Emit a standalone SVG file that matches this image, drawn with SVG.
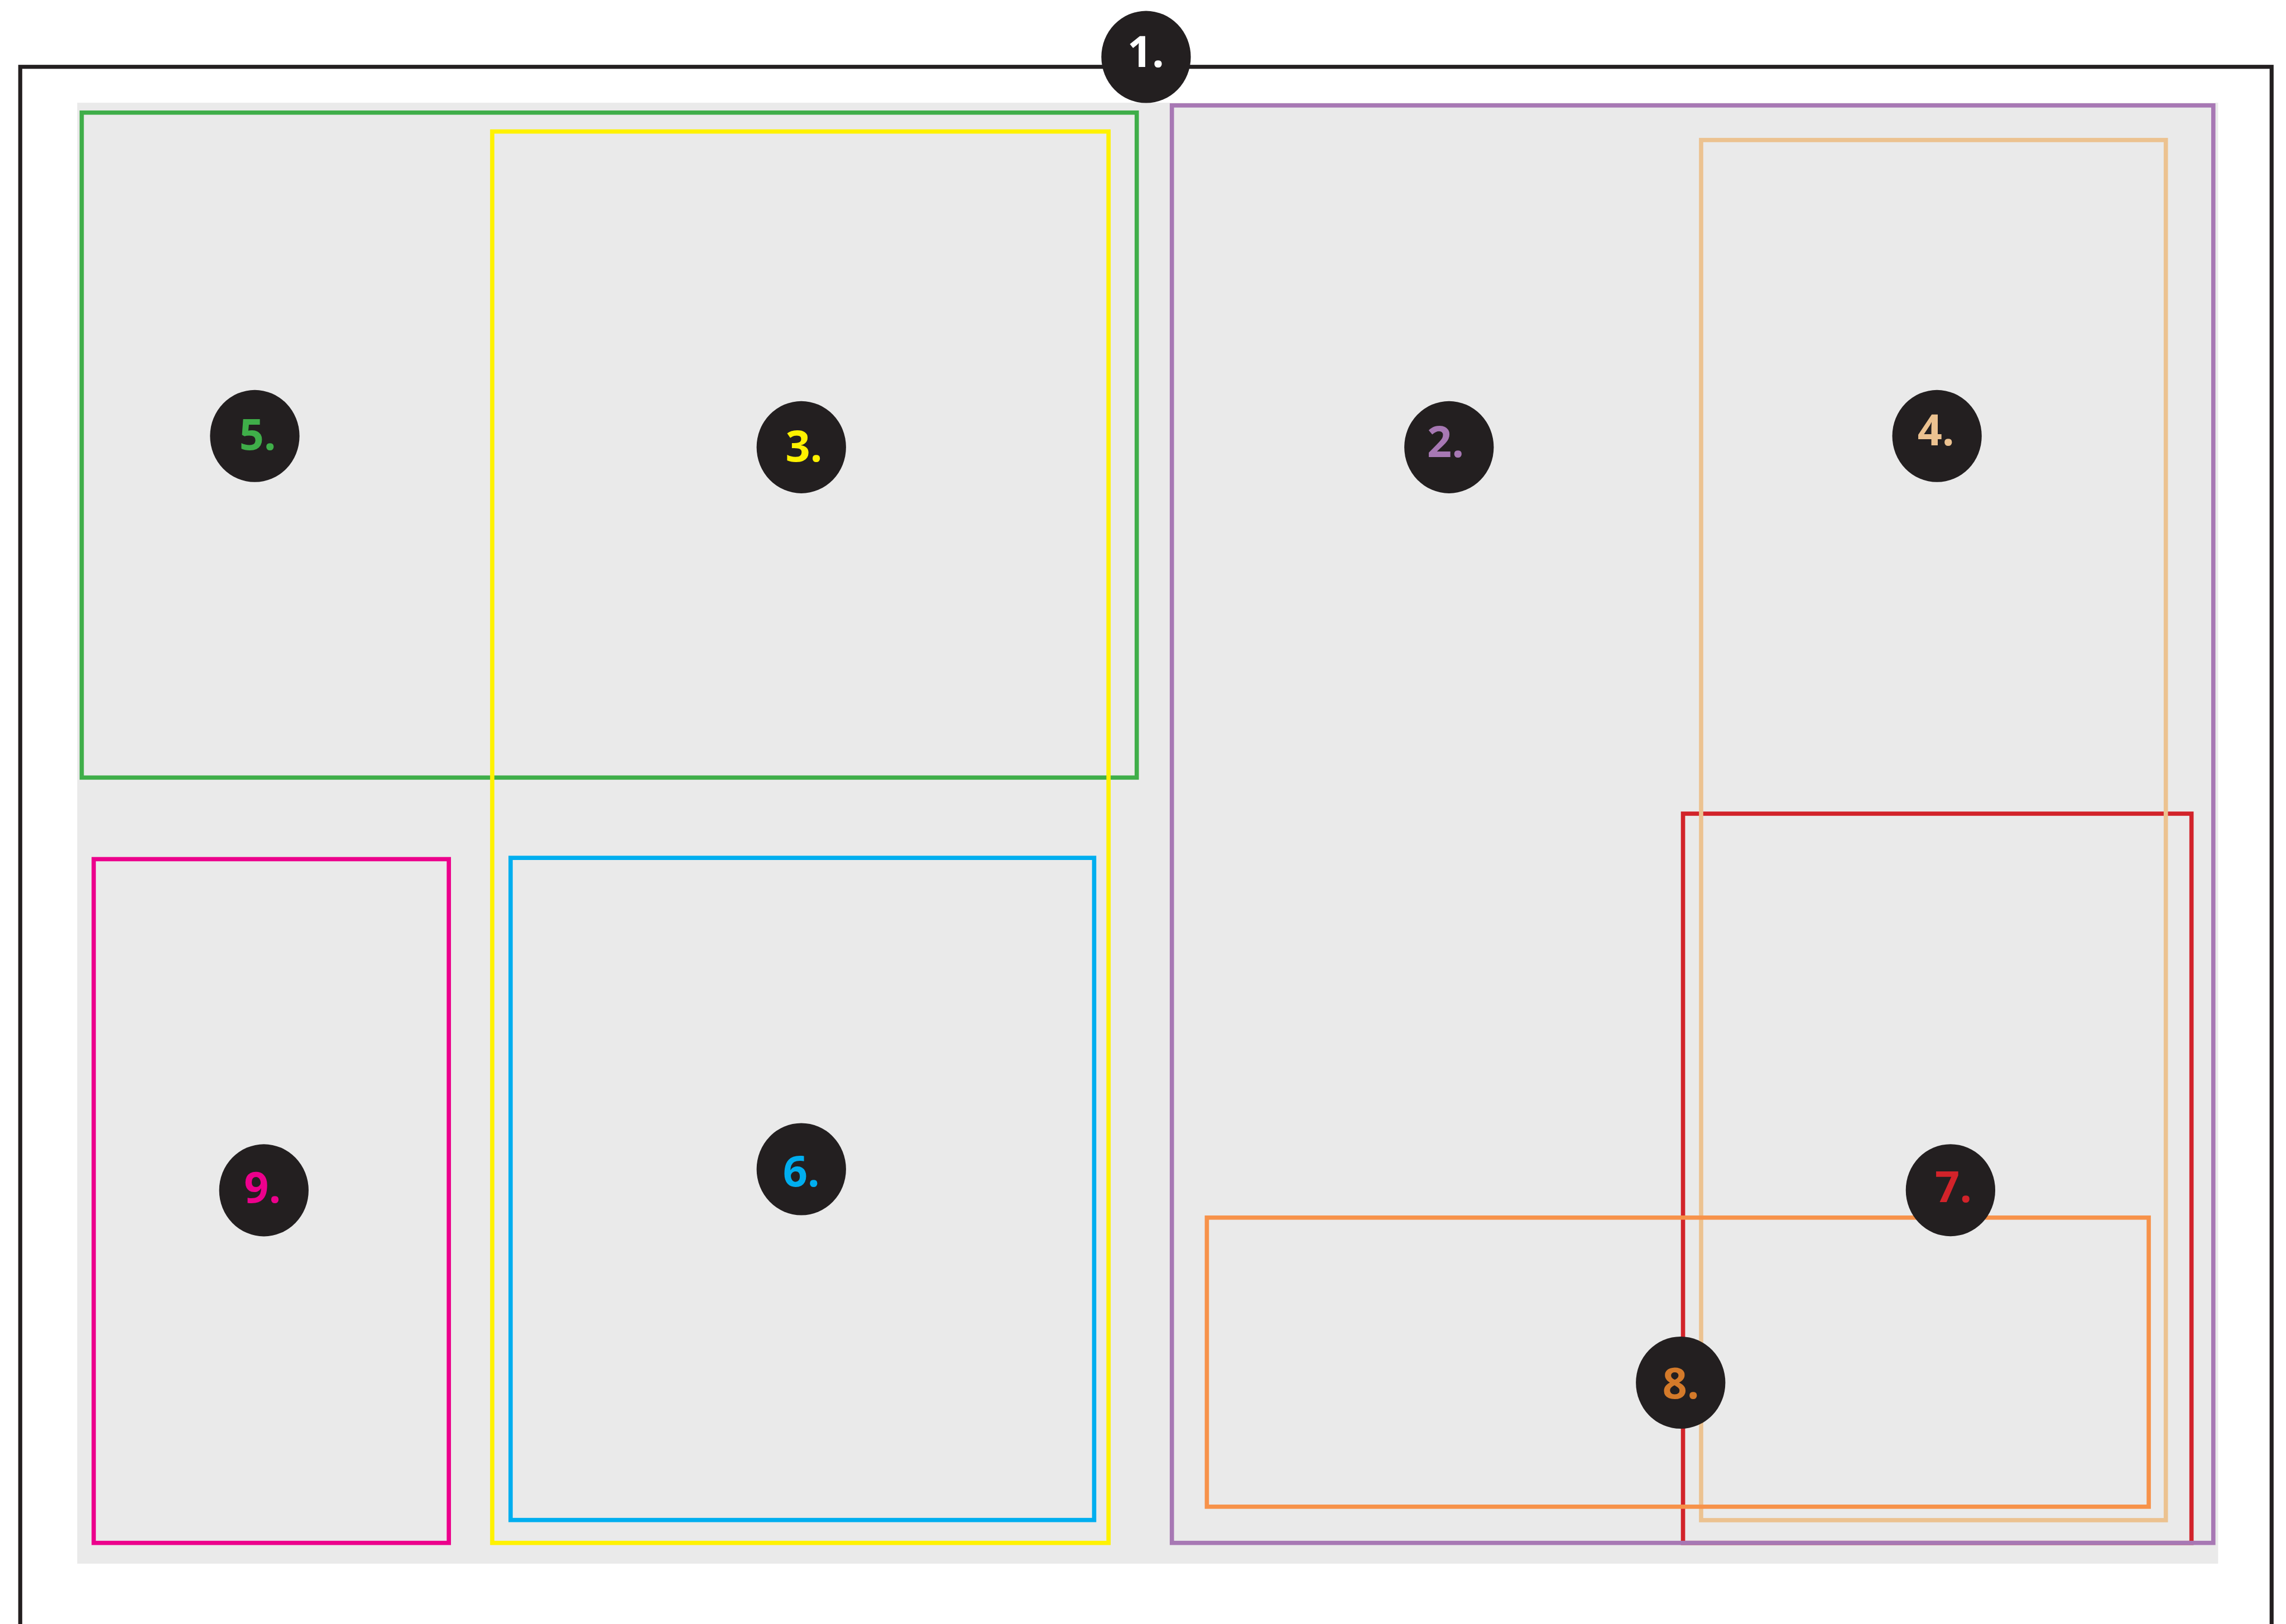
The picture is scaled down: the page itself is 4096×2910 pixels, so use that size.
<svg xmlns="http://www.w3.org/2000/svg" width="4096" height="2910" viewBox="0 0 4096 2910">
<style>
.box{fill:none;stroke-width:8}
.dot{fill:#231f20}
.lbl{font-family:"Open Sans","Liberation Sans",sans-serif;font-weight:700;font-size:81px;text-anchor:middle}
</style>
<rect x="0" y="0" width="4096" height="2910" fill="#ffffff"/>
<g transform="scale(0.954)">
  <g id="areas">
    <rect id="background" x="145" y="193" width="4021" height="2744" fill="#eaeaea"/>
    <rect id="frame-1" x="38" y="125.5" width="4228.5" height="3100" fill="none" stroke="#231f20" stroke-width="7.5"/>
    <rect id="box-5" class="box" x="153.5" y="211.5" width="1981.5" height="1249" stroke="#3fae49"/>
    <rect id="box-3" class="box" x="924.5" y="247" width="1157.5" height="2651" stroke="#fff200"/>
    <rect id="box-9" class="box" x="176" y="1613.7" width="667" height="1284.3" stroke="#ec008c"/>
    <rect id="box-6" class="box" x="959" y="1611.3" width="1096" height="1243.7" stroke="#00aeef"/>
    <rect id="box-7" class="box" x="3161" y="1528.3" width="955" height="1369.7" stroke="#d2232a"/>
    <rect id="box-2" class="box" x="2201" y="198" width="1956" height="2700" stroke="#a778b4"/>
    <rect id="box-4" class="box" x="3195" y="263" width="872.8" height="2592.3" stroke="#ecc290"/>
    <rect id="box-8" class="box" x="2266.7" y="2287" width="1769" height="543" stroke="#f7924a"/>
  </g>
  <g id="connectors"></g>
  <g id="node-1"><ellipse class="dot" cx="2152.5" cy="107" rx="84" ry="86.5"/><text class="lbl" x="2152" y="126" fill="#ffffff">1.</text></g>
  <g id="node-2"><ellipse class="dot" cx="2721.5" cy="840" rx="84" ry="86.5"/><text class="lbl" x="2715" y="859" fill="#a778b4">2.</text></g>
  <g id="node-3"><ellipse class="dot" cx="1505" cy="840" rx="84" ry="86.5"/><text class="lbl" x="1510" y="867" fill="#fff200">3.</text></g>
  <g id="node-4"><ellipse class="dot" cx="3638" cy="819" rx="84" ry="86.5"/><text class="lbl" x="3636" y="837" fill="#ecc290">4.</text></g>
  <g id="node-5"><ellipse class="dot" cx="478.5" cy="819" rx="84" ry="86.5"/><text class="lbl" x="484" y="845" fill="#3fae49">5.</text></g>
  <g id="node-6"><ellipse class="dot" cx="1505" cy="2196" rx="84" ry="86.5"/><text class="lbl" x="1505" y="2228" fill="#00aeef">6.</text></g>
  <g id="node-7"><ellipse class="dot" cx="3663.4" cy="2235.5" rx="84" ry="86.5"/><text class="lbl" x="3669" y="2258" fill="#d2232a">7.</text></g>
  <g id="node-8"><ellipse class="dot" cx="3156.5" cy="2597" rx="84" ry="86.5"/><text class="lbl" x="3157" y="2627" fill="#d47a2a">8.</text></g>
  <g id="node-9"><ellipse class="dot" cx="495.6" cy="2235.7" rx="84" ry="86.5"/><text class="lbl" x="493" y="2259" fill="#ec008c">9.</text></g>
</g>
</svg>
